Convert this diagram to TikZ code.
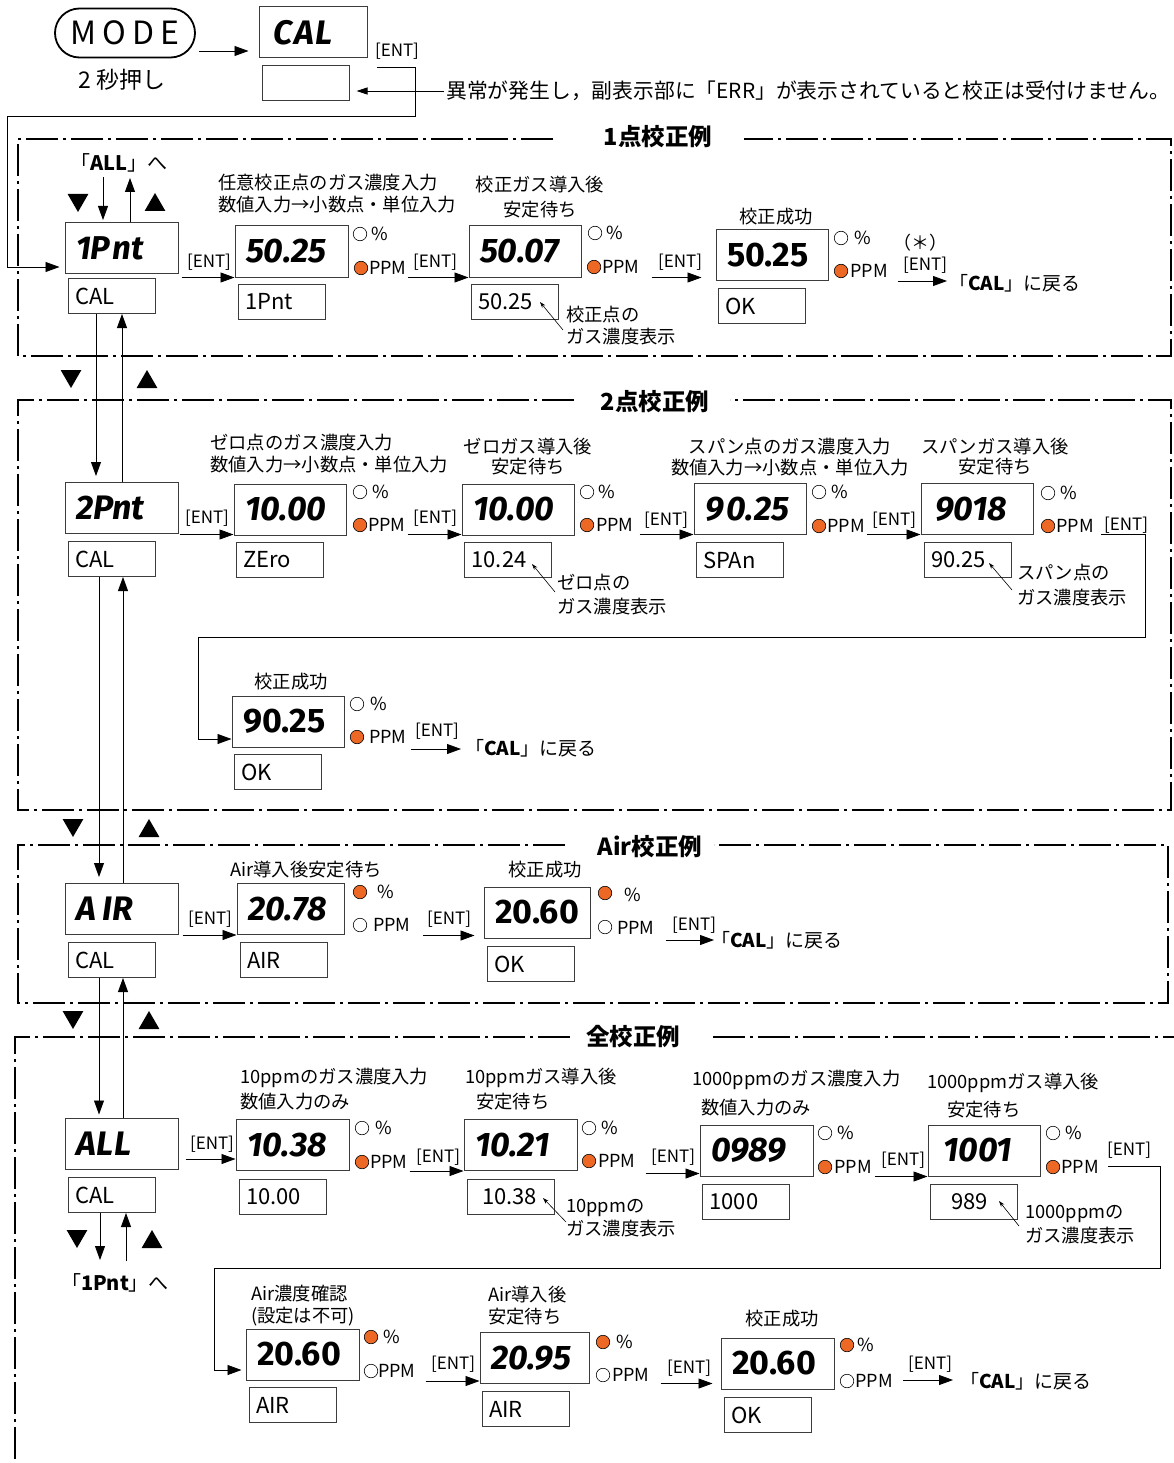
\documentclass[tikz,border=0pt]{standalone}
\usepackage{fontspec}
\setmainfont{Noto Sans CJK JP}
\newfontfamily\seg{Fira Sans}
\usetikzlibrary{arrows.meta,shapes.geometric,shapes.misc}
\definecolor{ledorange}{RGB}{236,104,36}
\definecolor{boxc}{RGB}{60,60,60}
\newcommand\setfs[2]{\fontsize{#1pt}{#2pt}\selectfont}
\begin{document}
\begin{tikzpicture}[x=1pt,y=-1pt,
 lab/.style={inner sep=0pt, align=left, font=\setfs{18.3}{22}},
 labc/.style={inner sep=0pt, align=center, font=\setfs{18.3}{22}},
 entlab/.style={inner sep=0pt, font=\setfs{17}{18}},
 unitlab/.style={inner sep=0pt, anchor=west, font=\setfs{18}{20}},
 disp/.style={draw=boxc, line width=1pt, minimum height=51pt, inner ysep=0pt, inner xsep=11pt, text width=#1, align=left, font=\seg\bfseries\itshape\setfs{34}{36}},
 dispu/.style={disp=#1, font=\seg\bfseries\setfs{34}{36}},
 sub/.style={draw=boxc, line width=1pt, minimum height=35pt, inner ysep=0pt, inner xsep=7pt, text width=#1, align=left, font=\setfs{22}{24}},
 plainbox/.style={draw=boxc, line width=1pt, inner sep=0pt},
 ledon/.style={circle, draw=black, fill=ledorange, line width=0.6pt, minimum size=13.5pt, inner sep=0pt},
 ledoff/.style={circle, draw=black, fill=white, line width=0.6pt, minimum size=13.5pt, inner sep=0pt},
 arrowline/.style={line width=0.8pt, -{Triangle[length=14pt,width=10pt]}},
 arrowsmall/.style={line width=0.8pt, -{Triangle[length=11pt,width=7pt]}},
 ptr/.style={line width=0.6pt, -{Stealth[length=6pt,width=4pt]}},
 secframe/.style={line width=1.1pt, dash pattern=on 32pt off 5pt on 3pt off 5pt},
 sectitle/.style={inner sep=0pt, font=\bfseries\setfs{23.5}{25}},
 trimark/.style={fill, regular polygon, regular polygon sides=3, minimum size=24pt, inner sep=0pt},
 modebox/.style={draw, rounded rectangle, line width=1.8pt, minimum width=140pt, minimum height=49pt, inner sep=0pt, font=\setfs{32}{34}},
 retlab/.style={inner sep=0pt, anchor=west, font=\setfs{19}{21}}
]
\fill[white] (0,0) rectangle (1174,1463);
\useasboundingbox (0,0) rectangle (1174,1463);

% ---------------- top ----------------
\node[modebox] (mode) at (125,33) {M\kern6pt O\kern6pt D\kern6pt E};
\node[lab, font=\setfs{23}{25}] (press) at (122,80) {2 秒押し};
\node[disp=80pt, inner xsep=14pt, font=\seg\bfseries\itshape\setfs{34}{36}] (caltop) at (313,32.5) {C\kern2pt A\kern2pt L};
\draw[arrowline, shorten <=3pt, shorten >=10pt] ([yshift=-18pt]mode.east) -- ([yshift=-18pt]mode.east -| caltop.west);
\node[entlab] (e0) at (397,51) {[ENT]};
\node[plainbox, minimum width=87pt, minimum height=35pt] (errbox) at (305.5,83.5) {};
\node[lab, anchor=west, font=\setfs{20.8}{22}] (errtxt) at (446,91) {異常が発生し，副表示部に「ERR」が表示されていると校正は受付けません。};
\draw[arrowsmall, shorten >=7pt, shorten <=2pt] (errtxt.west) -- (errtxt.west -| errbox.east);

% ---------------- frames ----------------
\draw[secframe] (553,139) -- (18,139) -- (18,356) -- (1171,356) -- (1171,139) -- (744,139);
\node[sectitle] (t1) at (658,137) {1点校正例};
\draw[secframe] (574,400) -- (18,400) -- (18,810) -- (1171,810) -- (1171,400) -- (730,400);
\node[sectitle] (t2) at (655,402) {2点校正例};
\draw[secframe] (565,845) -- (18,845) -- (18,1003) -- (1168,1003) -- (1168,845) -- (714,845);
\node[sectitle] (t3) at (650,847) {Air校正例};
\draw[secframe] (570,1037) -- (15,1037) -- (15,1463);
\draw[secframe] (713,1037) -- (1174,1037);
\node[sectitle] (t4) at (633,1037) {全校正例};

% ---------------- section 1 ----------------
\node[disp=91pt, font=\seg\bfseries\itshape\setfs{33}{36}] (p1) at (121.5,248) {1P\kern2pt nt};
\node[sub=73pt] (p1cal) at (111.5,296) {CAL};
\coordinate (t0) at (377,67);
\draw[arrowline, shorten >=5pt] (t0) -- (415,67) -- (415,116) -- (7,116) |- ([yshift=-19pt]p1.west);
\node[lab, font=\setfs{20}{22}] (toall) at (119,163) {「\textbf{ALL}」へ};
\node[trimark, shape border rotate=180] (d0) at (78,200) {};
\node[trimark] (u0) at (155,205) {};
\coordinate (a0d) at (103,177);
\coordinate (a0u) at (130,178);
\draw[arrowline, shorten >=2pt] (a0d) -- (a0d |- p1.north);
\draw[arrowline] (a0u |- p1.north) -- (a0u);

\node[lab, anchor=west] (l11) at (218,194) {任意校正点のガス濃度入力\\数値入力→小数点・単位入力};
\node[disp=91pt] (v11) at (291.5,251.5) {50.25};
\node[ledoff] (c11a) at (360,234) {}; \node[unitlab] (u11a) at (371,234) {\%};
\node[ledon] (c11b) at (361,268) {}; \node[unitlab] (u11b) at (369,268) {PPM};
\node[sub=73pt] (s11) at (281.5,302) {1Pnt};
\node[entlab] (e11) at (209,262) {[ENT]};
\draw[arrowline] ([xshift=-53pt]v11.south west) -- (v11.south west);

\node[labc, font=\setfs{18.3}{25}] (l12) at (540,197.5) {校正ガス導入後\\安定待ち};
\node[disp=90pt] (v12) at (525,251.5) {50.07};
\node[ledoff] (c12a) at (595,233) {}; \node[unitlab] (u12a) at (606,233) {\%};
\node[ledon] (c12b) at (594,267) {}; \node[unitlab] (u12b) at (602,267) {PPM};
\node[sub=73pt] (s12) at (514.5,302) {50.25};
\node[entlab] (e12) at (435,262) {[ENT]};
\draw[arrowline] ([xshift=-61pt]v12.south west) -- (v12.south west);
\node[lab, anchor=west] (l12b) at (566,326) {校正点の\\ガス濃度表示};
\draw[ptr] ([xshift=-3pt,yshift=-4pt]l12b.west) -- ++(-23,-28);

\node[labc] (l13) at (776,217) {校正成功};
\node[dispu=90pt] (v13) at (772,255) {50.25};
\node[ledoff] (c13a) at (841,238) {}; \node[unitlab] (u13a) at (854,238) {\%};
\node[ledon] (c13b) at (841,271) {}; \node[unitlab] (u13b) at (850,271) {PPM};
\node[sub=73pt] (s13) at (761.5,306) {OK};
\node[entlab] (e13) at (680,262) {[ENT]};
\draw[arrowline] ([xshift=-64pt,yshift=3.5pt]v13.south west) -- ([xshift=-14pt,yshift=3.5pt]v13.south west);
\node[lab, font=\setfs{18}{20}] (ast) at (920,243) {（＊）};
\node[entlab] (e14) at (925,265) {[ENT]};
\node[retlab] (r1) at (949,283) {「\textbf{CAL}」に戻る};
\draw[arrowline] ([xshift=-51pt,yshift=2pt]r1.west) -- ([xshift=-2pt,yshift=2pt]r1.west);

% between 1 and 2
\node[trimark, shape border rotate=180] (d1) at (71,376) {};
\node[trimark] (u1) at (147,382) {};

% ---------------- section 2 ----------------
\node[disp=91pt] (p2) at (121.5,508) {2Pnt};
\node[sub=73pt] (p2cal) at (111.5,559) {CAL};
\coordinate (xa) at (96,0);
\coordinate (xb) at (122,0);
\draw[arrowline, shorten >=6pt] (xa |- p1cal.south) -- (xa |- p2.north);
\draw[arrowline] (xb |- p2.north) -- (xb |- p1cal.south);

\node[lab, anchor=west] (l21) at (210,454) {ゼロ点のガス濃度入力\\数値入力→小数点・単位入力};
\node[disp=90pt] (v21) at (290,509.5) {10.00};
\node[ledoff] (c21a) at (360,492) {}; \node[unitlab] (u21a) at (372,492) {\%};
\node[ledon] (c21b) at (360,525) {}; \node[unitlab] (u21b) at (368,525) {PPM};
\node[sub=73pt] (s21) at (279.5,560) {ZEro};
\node[entlab] (e21) at (207,518) {[ENT]};
\draw[arrowline] ([xshift=-54pt,yshift=1pt]v21.south west) -- ([yshift=1pt]v21.south west);

\node[labc, font=\setfs{18.3}{20}] (l22) at (528,457) {ゼロガス導入後\\安定待ち};
\node[disp=90pt] (v22) at (518,509.5) {10.00};
\node[ledoff] (c22a) at (587,492) {}; \node[unitlab] (u22a) at (598,492) {\%};
\node[ledon] (c22b) at (587,525) {}; \node[unitlab] (u22b) at (596,525) {PPM};
\node[sub=73pt] (s22) at (508,560) {10.24};
\node[entlab] (e22) at (435,518) {[ENT]};
\draw[arrowline] ([xshift=-54pt,yshift=1pt]v22.south west) -- ([yshift=1pt]v22.south west);
\node[lab, anchor=west, font=\setfs{18.3}{24}] (l22b) at (557,595) {ゼロ点の\\ガス濃度表示};
\draw[ptr] ([xshift=-2pt,yshift=3pt]l22b.west) -- ++(-23,-28);

\node[labc, font=\setfs{18.3}{21}] (l23) at (790,457.5) {スパン点のガス濃度入力\\数値入力→小数点・単位入力};
\node[disp=90pt] (v23) at (750,509) {9\kern3pt 0.25};
\node[ledoff] (c23a) at (819,492) {}; \node[unitlab] (u23a) at (831,492) {\%};
\node[ledon] (c23b) at (819,526) {}; \node[unitlab] (u23b) at (827,526) {PPM};
\node[sub=73pt] (s23) at (739.5,560) {SPAn};
\node[entlab] (e23) at (666,520) {[ENT]};
\draw[arrowline] ([xshift=-54pt,yshift=0.5pt]v23.south west) -- ([yshift=0.5pt]v23.south west);

\node[labc, font=\setfs{18.3}{20}] (l24) at (995,457) {スパンガス導入後\\安定待ち};
\node[disp=90pt, inner xsep=14pt, text width=84pt] (v24) at (977,509) {9018};
\node[ledoff] (c24a) at (1048,493) {}; \node[unitlab] (u24a) at (1060,493) {\%};
\node[ledon] (c24b) at (1048,526) {}; \node[unitlab] (u24b) at (1056,526) {PPM};
\node[sub=73pt] (s24) at (967.5,560) {90.25};
\node[entlab] (e23b) at (894,520) {[ENT]};
\draw[arrowline] ([xshift=-54pt,yshift=0.5pt]v24.south west) -- ([yshift=0.5pt]v24.south west);
\node[lab, anchor=west, font=\setfs{18.3}{25}] (l24b) at (1017,585.5) {スパン点の\\ガス濃度表示};
\draw[ptr] ([xshift=-5pt,yshift=-4.5pt]l24b.west) -- ++(-23,-27);

\node[entlab] (e24) at (1126,525) {[ENT]};
\node[labc] (l25) at (291,682) {校正成功};
\node[dispu=90pt] (v25) at (288,721.5) {90.25};
\node[ledoff] (c25a) at (357,704) {}; \node[unitlab] (u25a) at (370,704) {\%};
\node[ledon] (c25b) at (357,737) {}; \node[unitlab] (u25b) at (369,737) {PPM};
\node[sub=73pt] (s25) at (277.5,772) {OK};
\coordinate (k2s) at (1101,534);
\draw[arrowline] (k2s) -- (1145,534) -- (1145,637) -- (198,637) |- ([yshift=-17.5pt]v25.west);
\node[entlab] (e25) at (437,731) {[ENT]};
\node[retlab] (r2) at (465,748) {「\textbf{CAL}」に戻る};
\draw[arrowline] ([xshift=-54pt,yshift=-1pt]r2.west) -- ([xshift=-4pt,yshift=-1pt]r2.west);

% between 2 and air
\node[trimark, shape border rotate=180] (d2) at (73,825) {};
\node[trimark] (u2) at (149,831) {};

% ---------------- Air section ----------------
\node[disp=91pt] (air) at (121.5,909) {A\kern7pt IR};
\node[sub=73pt] (aircal) at (111.5,960) {CAL};
\coordinate (xc) at (99,0);
\coordinate (xd) at (123,0);
\draw[arrowline, shorten >=6pt] (xc |- p2cal.south) -- (xc |- air.north);
\draw[arrowline] (xd |- air.north) -- (xd |- p2cal.south);

\node[labc] (l31) at (306,870) {Air導入後安定待ち};
\node[disp=85pt] (v31) at (290.5,909) {20.78};
\node[ledon] (c31a) at (360,892) {}; \node[unitlab] (u31a) at (377,892) {\%};
\node[ledoff] (c31b) at (360,925) {}; \node[unitlab] (u31b) at (373,925) {PPM};
\node[sub=73pt] (s31) at (283.5,960) {AIR};
\node[entlab] (e31) at (210,919) {[ENT]};
\draw[arrowline] ([xshift=-54pt]v31.south west) -- (v31.south west);

\node[labc] (l32) at (545,870) {校正成功};
\node[dispu=84pt] (v32) at (537,912.5) {20.60};
\node[ledon] (c32a) at (605,893) {}; \node[unitlab] (u32a) at (624,895) {\%};
\node[ledoff] (c32b) at (605,927) {}; \node[unitlab] (u32b) at (617,928) {PPM};
\node[sub=73pt] (s32) at (530.5,964) {OK};
\node[entlab] (e32) at (449,919) {[ENT]};
\draw[arrowline] ([xshift=-61pt,yshift=3pt]v32.south west) -- ([xshift=-9pt,yshift=3pt]v32.south west);
\node[entlab] (e33) at (694,925) {[ENT]};
\node[retlab] (r3) at (711,940) {「\textbf{CAL}」に戻る};
\draw[arrowline] ([xshift=-45pt]r3.west) -- ([xshift=3pt]r3.west);

% between air and all
\node[trimark, shape border rotate=180] (d3) at (73,1017) {};
\node[trimark] (u3) at (149,1023) {};

% ---------------- All section ----------------
\node[disp=91pt] (all) at (121.5,1143.5) {A\kern1pt L\kern1pt L};
\node[sub=73pt] (allcal) at (111.5,1195) {CAL};
\coordinate (xe) at (99,0);
\coordinate (xf) at (123,0);
\draw[arrowline, shorten >=3pt] (xe |- aircal.south) -- (xe |- all.north);
\draw[arrowline] (xf |- all.north) -- (xf |- aircal.south);
\coordinate (ae) at (100,1260);
\coordinate (af) at (126,1261);
\draw[arrowline] (ae |- allcal.south) -- (ae);
\draw[arrowline] (af) -- (af |- allcal.south);
\node[trimark, shape border rotate=180] (d4) at (77,1236) {};
\node[trimark] (u4) at (152,1242) {};
\node[lab, font=\setfs{20}{22}] (to1p) at (115,1283) {「\textbf{1Pnt}」へ};

\node[lab, anchor=west, font=\setfs{18.3}{25}] (l41) at (240,1089.5) {10ppmのガス濃度入力\\数値入力のみ};
\node[disp=91pt] (v41) at (292.5,1145) {10.38};
\node[ledoff] (c41a) at (362,1128) {}; \node[unitlab] (u41a) at (375,1128) {\%};
\node[ledon] (c41b) at (362,1162) {}; \node[unitlab] (u41b) at (370,1162) {PPM};
\node[sub=73pt] (s41) at (282.5,1196.5) {10.00};
\node[entlab] (e41) at (212,1144) {[ENT]};
\draw[arrowline] ([xshift=-50pt,yshift=-14pt]v41.west) -- ([yshift=-14pt]v41.west);

\node[lab, anchor=west, font=\setfs{18.3}{25}] (l42) at (465,1089.5) {10ppmガス導入後\\\hspace*{11pt}安定待ち};
\node[disp=91pt] (v42) at (520.5,1145) {10.21};
\node[ledoff] (c42a) at (589,1128) {}; \node[unitlab] (u42a) at (601,1128) {\%};
\node[ledon] (c42b) at (589,1161) {}; \node[unitlab] (u42b) at (598,1161) {PPM};
\node[sub=73pt, inner xsep=15pt, text width=57pt] (s42) at (510.5,1196.5) {10.38};
\node[entlab] (e42) at (438,1157) {[ENT]};
\draw[arrowline] ([xshift=-54pt]v42.south west) -- (v42.south west);
\node[lab, anchor=west, font=\setfs{18.3}{23}] (l42b) at (566,1218.5) {10ppmの\\ガス濃度表示};
\draw[ptr] ([yshift=-3.5pt]l42b.west) -- ++(-23,-24);

\node[lab, anchor=west, font=\setfs{18.3}{29}] (l43) at (692,1093.5) {1000ppmのガス濃度入力\\\hspace*{9pt}数値入力のみ};
\node[disp=91pt] (v43) at (756.5,1150.5) {0989};
\node[ledoff] (c43a) at (825,1133) {}; \node[unitlab] (u43a) at (837,1133) {\%};
\node[ledon] (c43b) at (825,1167) {}; \node[unitlab] (u43b) at (834,1167) {PPM};
\node[sub=73pt] (s43) at (746,1201.5) {1000};
\node[entlab] (e43) at (673,1157) {[ENT]};
\draw[arrowline] ([xshift=-54pt,yshift=3pt]v43.south west) -- ([yshift=3pt]v43.south west);

\node[lab, anchor=west, font=\setfs{18.3}{28}] (l44) at (927,1096) {1000ppmガス導入後\\\hspace*{20pt}安定待ち};
\node[disp=90pt, inner xsep=15pt, text width=82pt] (v44) at (984,1150.5) {1001};
\node[ledoff] (c44a) at (1053,1133) {}; \node[unitlab] (u44a) at (1065,1133) {\%};
\node[ledon] (c44b) at (1053,1167) {}; \node[unitlab] (u44b) at (1061,1167) {PPM};
\node[sub=73pt, inner xsep=21pt, text width=45pt] (s44) at (973.5,1201.5) {989};
\node[entlab] (e44) at (903,1160) {[ENT]};
\draw[arrowline] ([xshift=-53pt]v44.south west) -- (v44.south west);
\node[lab, anchor=west, font=\setfs{18.3}{24}] (l44b) at (1025,1225) {1000ppmの\\ガス濃度表示};
\draw[ptr] ([xshift=-6pt,yshift=-1pt]l44b.west) -- ++(-20,-25);

\node[entlab] (e45) at (1129,1150) {[ENT]};
\node[lab, anchor=west] (l45) at (251,1306) {Air濃度確認\\(設定は不可)};
\node[dispu=91pt] (v45) at (302.5,1354.5) {20.60};
\node[ledon] (c45a) at (371,1337) {}; \node[unitlab] (u45a) at (383,1337) {\%};
\node[ledoff] (c45b) at (371,1371) {}; \node[unitlab] (u45b) at (378,1371) {PPM};
\node[sub=73pt] (s45) at (292.5,1405) {AIR};
\coordinate (k4s) at (1108,1166);
\draw[arrowline, shorten >=4pt] (k4s) -- (1160,1166) -- (1160,1268) -- (214,1268) |- ([yshift=-15.5pt]v45.west);

\node[lab, anchor=west] (l46) at (488,1306) {Air導入後\\安定待ち};
\node[disp=87pt] (v46) at (534.5,1358) {20.95};
\node[ledon] (c46a) at (603,1342) {}; \node[unitlab] (u46a) at (616,1342) {\%};
\node[ledoff] (c46b) at (603,1375) {}; \node[unitlab] (u46b) at (612,1375) {PPM};
\node[sub=73pt] (s46) at (525.5,1409) {AIR};
\node[entlab] (e46) at (453,1364) {[ENT]};
\draw[arrowline] ([xshift=-54pt,yshift=3pt]v46.south west) -- ([yshift=3pt]v46.south west);

\node[labc] (l47) at (782,1319) {校正成功};
\node[dispu=91pt] (v47) at (777.5,1363.5) {20.60};
\node[ledon] (c47a) at (847,1345) {}; \node[unitlab] (u47a) at (857,1345) {\%};
\node[ledoff] (c47b) at (847,1381) {}; \node[unitlab] (u47b) at (855,1381) {PPM};
\node[sub=73pt] (s47) at (767.5,1415) {OK};
\node[entlab] (e47) at (689,1368) {[ENT]};
\draw[arrowline] ([xshift=-60pt,yshift=6pt]v47.south west) -- ([xshift=-8pt,yshift=6pt]v47.south west);
\node[entlab] (e48) at (930,1364) {[ENT]};
\node[retlab] (r4) at (960,1381) {「\textbf{CAL}」に戻る};
\draw[arrowline] ([xshift=-57pt,yshift=1pt]r4.west) -- ([xshift=-7pt,yshift=1pt]r4.west);
\end{tikzpicture}
\end{document}
